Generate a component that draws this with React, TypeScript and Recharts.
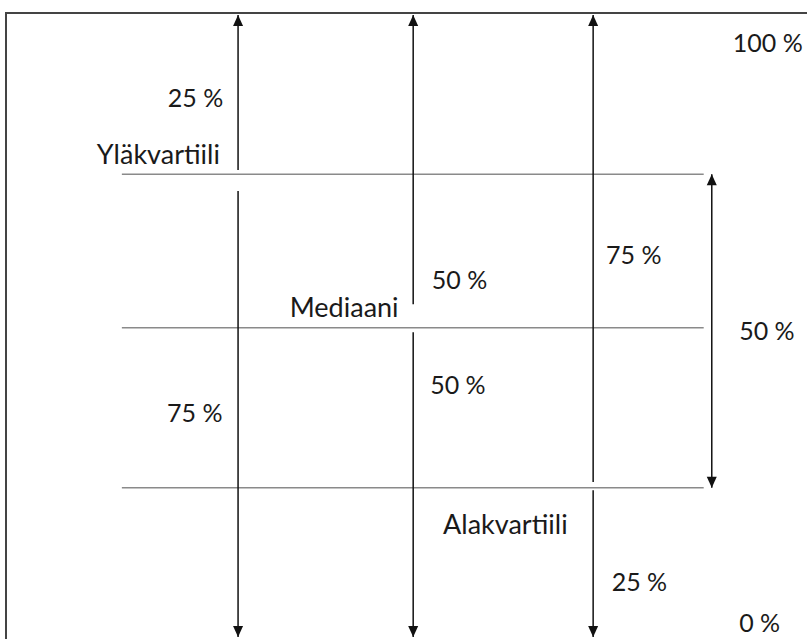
import React from "react";
import { ComposedChart, Line, Scatter, XAxis, YAxis } from "recharts";

// percent scale: 0 % at the bottom arrow tips, 100 % at the top ones
const arrowX = [29.5, 51.2, 73.5];
const arrowBreakTop = [75.1, 53.5, 24.9];
const arrowBreakBottom = [71.7, 49.0, 23.6];
const quartileLevels = [74.4, 49.7, 24.0]; // yläkvartiili, mediaani, alakvartiili
const quartileFrom = 15.1;
const quartileTo = 87.2;
const spanX = 88.2;
const labelTexts = [
  "100 %", "25 %", "Yläkvartiili", "75 %", "50 %", "Mediaani",
  "50 %", "50 %", "75 %", "Alakvartiili", "25 %", "0 %",
];
const labelX = [90.8, 20.8, 12.0, 75.1, 53.5, 35.9, 91.6, 53.3, 20.7, 54.9, 75.8, 91.6];
const labelY = [95.7, 86.8, 77.7, 61.6, 57.6, 53.1, 49.4, 40.7, 36.2, 18.3, 9.0, 2.4];

const segments: { x: number; y: number }[][] = [];
arrowX.forEach((x, i) => {
  segments.push([{ x, y: 100 }, { x, y: arrowBreakTop[i] }]);
  segments.push([{ x, y: arrowBreakBottom[i] }, { x, y: 0 }]);
});
segments.push([{ x: spanX, y: quartileLevels[0] }, { x: spanX, y: quartileLevels[2] }]);

const gridLines = quartileLevels.map((y) => [
  { x: quartileFrom, y },
  { x: quartileTo, y },
]);

const heads = [
  ...arrowX.flatMap((x) => [
    { x, y: 100, dir: "up" },
    { x, y: 0, dir: "down" },
  ]),
  { x: spanX, y: quartileLevels[0], dir: "up" },
  { x: spanX, y: quartileLevels[2], dir: "down" },
];

const labels = labelTexts.map((text, i) => ({ x: labelX[i], y: labelY[i], text }));

const ArrowHead = (props: any) => {
  const { cx, cy, payload } = props;
  const h = 11;
  const w = 5;
  const s = payload.dir === "up" ? 1 : -1;
  return (
    <polygon
      points={`${cx},${cy} ${cx - w},${cy + s * h} ${cx + w},${cy + s * h}`}
      fill="#111"
    />
  );
};

const TextMark = (props: any) => {
  const { cx, cy, payload } = props;
  const isPct = payload.text.includes("%");
  return (
    <text
      x={cx}
      y={cy}
      dominantBaseline="central"
      fontFamily="Lato"
      fontSize={isPct ? 25 : 27}
      fill="#1a1a1a"
    >
      {payload.text}
    </text>
  );
};

export default function App() {
  return (
    <div style={{ position: "absolute", left: 0, top: 0, width: 807, height: 639, background: "#fff" }}>
      <div
        style={{
          position: "absolute",
          left: 5,
          top: 12,
          right: 0,
          bottom: 0,
          borderLeft: "2px solid #444",
          borderTop: "2px solid #444",
        }}
      />
      <ComposedChart
        width={807}
        height={639}
        margin={{ top: 15, right: 0, bottom: 2, left: 0 }}
        style={{ position: "absolute", left: 0, top: 0 }}
      >
        <XAxis type="number" dataKey="x" domain={[0, 100]} hide />
        <YAxis type="number" dataKey="y" domain={[0, 100]} hide />
        {gridLines.map((d, i) => (
          <Line
            key={"q" + i}
            data={d}
            dataKey="y"
            stroke="#8a8a8a"
            strokeWidth={1.5}
            dot={false}
            isAnimationActive={false}
          />
        ))}
        {segments.map((d, i) => (
          <Line
            key={"s" + i}
            data={d}
            dataKey="y"
            stroke="#111"
            strokeWidth={1.5}
            dot={false}
            isAnimationActive={false}
          />
        ))}
        <Scatter data={heads} shape={ArrowHead} isAnimationActive={false} />
        <Scatter data={labels} shape={TextMark} isAnimationActive={false} />
      </ComposedChart>
    </div>
  );
}
